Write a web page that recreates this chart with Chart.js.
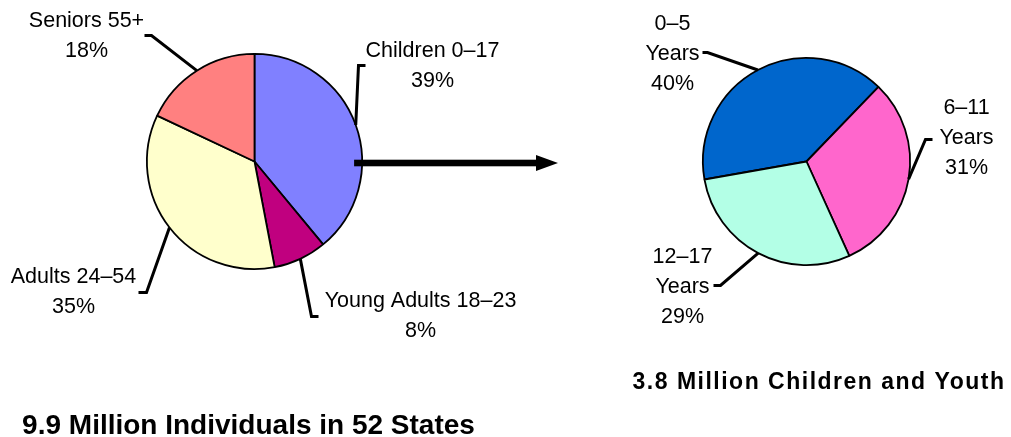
<!DOCTYPE html>
<html>
<head>
<meta charset="utf-8">
<script src="https://cdn.jsdelivr.net/npm/chart.js@4.4.1/dist/chart.umd.min.js"></script>
<style>
  html, body { margin: 0; padding: 0; background: #ffffff; }
  #wrap { position: relative; width: 1011px; height: 437px; overflow: hidden; }
  canvas { position: absolute; top: 0; }
  #allAges { left: 0; }
  #youth { left: 580px; }
</style>
</head>
<body>
<div id="wrap">
  <canvas id="allAges" width="580" height="437"></canvas>
  <canvas id="youth" width="431" height="437"></canvas>
</div>
<script>
// Everyone served, by age group (percent)
const ageGroups = [["Children 0–17"], ["Young Adults 18–23"], ["Adults 24–54"], ["Seniors 55+"]];
const ageShares = [39, 8, 35, 18];
const ageColors = ["#8080FF", "#C0007F", "#FFFFCC", "#FF8080"];

// Children and youth, by age band (percent)
const youthGroups = [["0–5", "Years"], ["6–11", "Years"], ["12–17", "Years"]];
const youthShares = [40, 31, 29];
const youthColors = ["#0066CC", "#FF66CC", "#B3FFE6"];

const allAgesTitle = "9.9 Million Individuals in 52 States";
const youthTitle = "3.8 Million Children and Youth";

const LABEL_FONT = '21.5px "Liberation Sans", Arial, Helvetica, sans-serif';
const TITLE_FONT = 'bold 28px "Liberation Sans", Arial, Helvetica, sans-serif';
const SUBTITLE_FONT = 'bold 23px "Liberation Sans", Arial, Helvetica, sans-serif';

// Callout label plugin: leader line from each slice's mid-angle to an elbow,
// a short tick, then the stacked label text (name lines + value line).
const calloutPlugin = {
  id: 'callouts',
  afterDatasetsDraw(chart, args, opts) {
    const ctx = chart.ctx;
    const meta = chart.getDatasetMeta(0);
    const values = chart.data.datasets[0].data;
    const names = chart.data.labels;
    ctx.save();
    meta.data.forEach((arc, i) => {
      const p = arc.getProps(['x', 'y', 'startAngle', 'endAngle', 'outerRadius'], true);
      const lay = opts.layout[i];
      const mid = (p.startAngle + p.endAngle) / 2;
      const ax = p.x + p.outerRadius * Math.cos(mid);
      const ay = p.y + p.outerRadius * Math.sin(mid);
      const ex = p.x + lay.elbow[0];
      const ey = p.y + lay.elbow[1];
      ctx.beginPath();
      ctx.moveTo(ax, ay);
      ctx.lineTo(ex, ey);
      ctx.lineTo(ex + lay.tick, ey);
      ctx.strokeStyle = '#000';
      ctx.lineWidth = 3;
      ctx.lineJoin = 'miter';
      ctx.lineCap = 'butt';
      ctx.stroke();

      const lines = names[i].concat([values[i] + '%']);
      ctx.fillStyle = '#000';
      ctx.font = LABEL_FONT;
      ctx.textAlign = 'center';
      ctx.textBaseline = 'middle';
      lines.forEach((t, k) => {
        ctx.fillText(t, p.x + lay.text[0], p.y + lay.text[1] + k * opts.lineHeight);
      });
    });

    // caption under the pie
    ctx.font = opts.title.font;
    ctx.letterSpacing = opts.title.spacing;
    ctx.textAlign = 'center';
    ctx.textBaseline = 'alphabetic';
    ctx.fillText(opts.title.text, opts.title.x, opts.title.y);
    ctx.letterSpacing = '0px';

    // arrow pointing from the children slice to the breakdown pie
    if (opts.arrow) {
      const a = meta.data[0].getProps(['x', 'y', 'outerRadius'], true);
      const y = a.y + opts.arrow.dy;
      const x0 = a.x + a.outerRadius - 8;
      const x1 = opts.arrow.toX;
      const head = opts.arrow.head;
      ctx.fillStyle = '#000';
      ctx.fillRect(x0, y - 3.3, x1 - head - x0 + 1, 6.6);
      ctx.beginPath();
      ctx.moveTo(x1 - head, y - 8);
      ctx.lineTo(x1, y);
      ctx.lineTo(x1 - head, y + 8);
      ctx.closePath();
      ctx.fill();
    }
    ctx.restore();
  }
};

function pieOptions(padding, rotation, callouts) {
  return {
    responsive: false,
    animation: false,
    events: [],
    rotation: rotation,
    layout: { padding: padding },
    plugins: {
      legend: { display: false },
      title: { display: false },
      tooltip: { enabled: false },
      callouts: callouts
    }
  };
}

new Chart(document.getElementById('allAges'), {
  type: 'pie',
  data: {
    labels: ageGroups,
    datasets: [{
      data: ageShares,
      backgroundColor: ageColors,
      borderColor: '#000',
      borderWidth: 1.8
    }]
  },
  options: pieOptions({ left: 146, right: 217, top: 53, bottom: 167 }, 0, {
    lineHeight: 30,
    layout: [
      { elbow: [104, -96], tick: 7, text: [178, -110] },
      { elbow: [57, 155], tick: 7, text: [166, 140] },
      { elbow: [-108, 131], tick: -8, text: [-181, 116] },
      { elbow: [-103, -126], tick: -7, text: [-168, -140] }
    ],
    title: { text: allAgesTitle, font: TITLE_FONT, spacing: '0px', x: 248.5, y: 434 },
    arrow: { dy: 1.5, toX: 558, head: 22 }
  }),
  plugins: [calloutPlugin]
});

new Chart(document.getElementById('youth'), {
  type: 'pie',
  data: {
    labels: youthGroups,
    datasets: [{
      data: youthShares,
      backgroundColor: youthColors,
      borderColor: '#000',
      borderWidth: 1.8
    }]
  },
  options: pieOptions({ left: 122, right: 100, top: 57, bottom: 171 }, -100, {
    lineHeight: 30,
    layout: [
      { elbow: [-99, -109], tick: -5, text: [-134, -137] },
      { elbow: [119, -22], tick: 7, text: [160, -53] },
      { elbow: [-86, 124], tick: -7, text: [-124, 96] }
    ],
    title: { text: youthTitle, font: SUBTITLE_FONT, spacing: '1.5px', x: 239, y: 389 },
    arrow: null
  }),
  plugins: [calloutPlugin]
});
</script>
</body>
</html>
